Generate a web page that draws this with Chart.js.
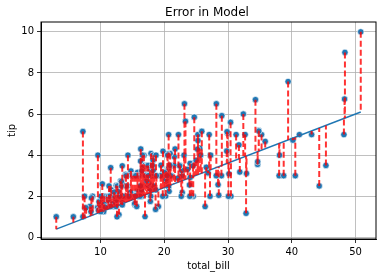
<!DOCTYPE html>
<html lang="en">
<head>
    <meta charset="UTF-8">
    <title>Error in Model</title>
    <script src="https://cdn.jsdelivr.net/npm/chart.js"></script>
    <style>
        body { margin: 0; background: #fff; }
        #wrap { width: 382px; height: 279px; }
    </style>
</head>
<body>
    <div id="wrap"><canvas id="grafico" width="382" height="279"></canvas></div>

    <script>
        const totalBill = [
            16.99,10.34,21.01,23.68,24.59,25.29,8.77,26.88,15.04,14.78,
            10.27,35.26,15.42,18.43,14.83,21.58,10.33,16.29,16.97,20.65,
            17.92,20.29,15.77,39.42,19.82,17.81,13.37,12.69,21.70,19.65,
            9.55,18.35,15.06,20.69,17.78,24.06,16.31,16.93,18.69,31.27,
            16.04,17.46,13.94,9.68,30.40,18.29,22.23,32.40,28.55,18.04,
            12.54,10.29,34.81,9.94,25.56,19.49,38.01,26.41,11.24,48.27,
            20.29,13.81,11.02,18.29,17.59,20.08,16.45,3.07,20.23,15.01,
            12.02,17.07,26.86,25.28,14.73,10.51,17.92,27.20,22.76,17.29,
            19.44,16.66,10.07,32.68,15.98,34.83,13.03,18.28,24.71,21.16,
            28.97,22.49,5.75,16.32,22.75,40.17,27.28,12.03,21.01,12.46,
            11.35,15.38,44.30,22.42,20.92,15.36,20.49,25.21,18.24,14.31,
            14.00,7.25,38.07,23.95,25.71,17.31,29.93,10.65,12.43,24.08,
            11.69,13.42,14.26,15.95,12.48,29.80,8.52,14.52,11.38,22.82,
            19.08,20.27,11.17,12.26,18.26,8.51,10.33,14.15,16.00,13.16,
            17.47,34.30,41.19,27.05,16.43,8.35,18.64,11.87,9.78,7.51,
            14.07,13.13,17.26,24.55,19.77,29.85,48.17,25.00,13.39,16.49,
            21.50,12.66,16.21,13.81,17.51,24.52,20.76,31.71,10.59,10.63,
            50.81,15.81,7.25,31.85,16.82,32.90,17.89,14.48,9.60,34.63,
            34.65,23.33,45.35,23.17,40.55,20.69,20.90,30.46,18.15,23.10,
            15.69,19.81,28.44,15.48,16.58,7.56,10.34,43.11,13.00,13.51,
            18.71,12.74,13.00,16.40,20.53,16.47,26.59,38.73,24.27,12.76,
            30.06,25.89,48.33,13.27,28.17,12.90,28.15,11.59,7.74,30.14,
            12.16,13.42,8.58,15.98,13.42,16.27,10.09,20.45,13.28,22.12,
            24.01,15.69,11.61,10.77,15.53,10.07,12.60,32.83,35.83,29.03,
            27.18,22.67,17.82,18.78
        ];

        const tip = [
            1.01,1.66,3.50,3.31,3.61,4.71,2.00,3.12,1.96,3.23,
            1.71,5.00,1.57,3.00,3.02,3.92,1.67,3.71,3.50,3.35,
            4.08,2.75,2.23,7.58,3.18,2.34,2.00,2.00,4.30,3.00,
            1.45,2.50,3.00,2.45,3.27,3.60,2.00,3.07,2.31,5.00,
            2.24,2.54,3.06,1.32,5.60,3.00,5.00,6.00,2.05,3.00,
            2.50,2.60,5.20,1.56,4.34,3.51,3.00,1.50,1.76,6.73,
            3.21,2.00,1.98,3.76,2.64,3.15,2.47,1.00,2.01,2.09,
            1.97,3.00,3.14,5.00,2.20,1.25,3.08,4.00,3.00,2.71,
            3.00,3.40,1.83,5.00,2.03,5.17,2.00,4.00,5.85,3.00,
            3.00,3.50,1.00,4.30,3.25,4.73,4.00,1.50,3.00,1.50,
            2.50,3.00,2.50,3.48,4.08,1.64,4.06,4.29,3.76,4.00,
            3.00,1.00,4.00,2.55,4.00,3.50,5.07,1.50,1.80,2.92,
            2.31,1.68,2.50,2.00,2.52,4.20,1.48,2.00,2.00,2.18,
            1.50,2.83,1.50,2.00,3.25,1.25,2.00,2.00,2.00,2.75,
            3.50,6.70,5.00,5.00,2.30,1.50,1.36,1.63,1.73,2.00,
            2.50,2.00,2.74,2.00,2.00,5.14,5.00,3.75,2.61,2.00,
            3.50,2.50,2.00,2.00,3.00,3.48,2.24,4.50,1.61,2.00,
            10.00,3.16,5.15,3.18,4.00,3.11,2.00,2.00,4.00,3.55,
            3.68,5.65,3.50,6.50,3.00,5.00,3.50,2.00,3.50,4.00,
            1.50,4.19,2.56,2.02,4.00,1.44,2.00,5.00,2.00,2.00,
            4.00,2.01,2.00,2.50,4.00,3.23,3.41,3.00,2.03,2.23,
            2.00,5.16,9.00,2.50,6.50,1.10,3.00,1.50,1.44,3.09,
            2.20,3.48,1.92,3.00,1.58,2.50,2.00,3.00,2.72,2.88,
            2.00,3.00,3.39,1.47,3.00,1.25,1.00,1.17,4.67,5.92,
            2.00,2.00,1.75,3.00
        ];

        // fitted model
        const intercept = 0.033;
        const slope = 0.1194;

        const xTicks = [10, 20, 30, 40, 50];
        const yTicks = [0, 2, 4, 6, 8, 10];

        const previsto = totalBill.map(x => intercept + slope * x);

        const pontos = totalBill.map((x, i) => ({ x: x, y: tip[i] }));
        const xMin = Math.min(...totalBill), xMax = Math.max(...totalBill);
        const reta = [
            { x: xMin, y: intercept + slope * xMin },
            { x: xMax, y: intercept + slope * xMax }
        ];
        const residuos = [];
        totalBill.forEach((x, i) => {
            residuos.push({ x: x, y: tip[i] }, { x: x, y: previsto[i] }, { x: x, y: null });
        });

        const fonte = "'DejaVu Sans', sans-serif";

        const moldura = {
            id: "moldura",
            afterDraw(chart) {
                const { ctx, chartArea: a } = chart;
                ctx.save();
                ctx.strokeStyle = "#000";
                ctx.lineWidth = 1;
                ctx.strokeRect(a.left, a.top, a.right - a.left, a.bottom - a.top);
                ctx.fillStyle = "#000";
                ctx.font = "12px " + fonte;
                ctx.textAlign = "center";
                ctx.textBaseline = "middle";
                ctx.fillText("Error in Model", (a.left + a.right) / 2 - 1.5, 13);
                ctx.restore();
            }
        };

        new Chart(document.getElementById("grafico"), {
            type: "scatter",
            data: {
                datasets: [
                    {
                        data: residuos,
                        showLine: true,
                        spanGaps: false,
                        borderColor: "rgba(255,0,0,0.8)",
                        borderWidth: 2,
                        borderDash: [6, 3],
                        pointRadius: 0,
                        order: 0
                    },
                    {
                        data: reta,
                        showLine: true,
                        borderColor: "#1f77b4",
                        borderWidth: 1.5,
                        pointRadius: 0,
                        order: 1
                    },
                    {
                        data: pontos,
                        backgroundColor: "#1f77b4",
                        borderColor: "#fff",
                        borderWidth: 0.6,
                        pointRadius: 3.2,
                        order: 2
                    }
                ]
            },
            options: {
                responsive: false,
                animation: false,
                events: [],
                layout: { padding: { top: 22, right: 6, left: 0, bottom: 0 } },
                plugins: { legend: { display: false }, tooltip: { enabled: false } },
                scales: {
                    x: {
                        type: "linear",
                        min: 0.68,
                        max: 53.2,
                        afterBuildTicks: s => { s.ticks = xTicks.map(v => ({ value: v })); },
                        afterFit: s => { s.height = 40; },
                        grid: { color: "#b0b0b0", lineWidth: 0.8, tickLength: 4, tickColor: "#000" },
                        border: { color: "#000", width: 1 },
                        ticks: { color: "#000", font: { family: fonte, size: 10 }, padding: 3 },
                        title: { display: true, text: "total_bill", color: "#000", font: { family: fonte, size: 10 }, padding: { bottom: 7 } }
                    },
                    y: {
                        type: "linear",
                        min: -0.08,
                        max: 10.48,
                        afterBuildTicks: s => { s.ticks = yTicks.map(v => ({ value: v })); },
                        afterFit: s => { s.width = 41; },
                        grid: { color: "#b0b0b0", lineWidth: 0.8, tickLength: 4, tickColor: "#000" },
                        border: { color: "#000", width: 1 },
                        ticks: { color: "#000", font: { family: fonte, size: 10 }, padding: 3 },
                        title: { display: true, text: "tip", color: "#000", font: { family: fonte, size: 10 }, padding: { top: 6 } }
                    }
                }
            },
            plugins: [moldura]
        });
    </script>
</body>
</html>
